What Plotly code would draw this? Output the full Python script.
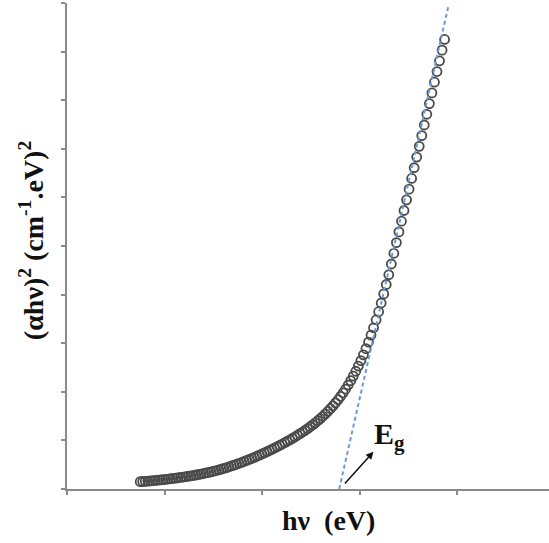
import plotly.graph_objects as go

# Photon energy (arbitrary axis units, no tick labels in reference)
hv = [0.750, 0.776, 0.802, 0.828, 0.854, 0.880, 0.906, 0.932, 0.958, 0.984,
      1.010, 1.036, 1.062, 1.088, 1.114, 1.140, 1.166, 1.192, 1.218, 1.244,
      1.270, 1.296, 1.322, 1.348, 1.374, 1.400, 1.426, 1.452, 1.478, 1.504,
      1.530, 1.556, 1.582, 1.608, 1.634, 1.660, 1.686, 1.712, 1.738, 1.764,
      1.790, 1.816, 1.842, 1.868, 1.894, 1.920, 1.946, 1.972, 1.998, 2.024,
      2.050, 2.076, 2.102, 2.128, 2.154, 2.180, 2.206, 2.232, 2.258, 2.284,
      2.310, 2.336, 2.362, 2.388, 2.414, 2.440, 2.466, 2.492, 2.518, 2.544,
      2.570, 2.596, 2.622, 2.648, 2.674, 2.700, 2.726, 2.752, 2.778, 2.804,
      2.830, 2.856, 2.882, 2.908, 2.934, 2.960, 2.986, 3.012, 3.038, 3.064,
      3.090, 3.116, 3.142, 3.168, 3.194, 3.220, 3.246, 3.272, 3.298, 3.324,
      3.350, 3.376, 3.402, 3.428, 3.454, 3.480, 3.506, 3.532, 3.558, 3.584,
      3.610, 3.636, 3.662, 3.688, 3.714, 3.740, 3.766, 3.792, 3.818, 3.844,
      3.870]

alpha_hv_sq = [0.150, 0.154, 0.158, 0.163, 0.167, 0.172, 0.177, 0.182, 0.187, 0.193,
               0.199, 0.205, 0.211, 0.217, 0.224, 0.231, 0.238, 0.246, 0.254, 0.262,
               0.270, 0.279, 0.288, 0.298, 0.308, 0.319, 0.330, 0.342, 0.354, 0.367,
               0.380, 0.394, 0.409, 0.424, 0.440, 0.457, 0.474, 0.492, 0.510, 0.529,
               0.548, 0.568, 0.588, 0.609, 0.630, 0.652, 0.674, 0.697, 0.720, 0.744,
               0.768, 0.793, 0.818, 0.844, 0.870, 0.897, 0.925, 0.953, 0.982, 1.012,
               1.042, 1.073, 1.105, 1.138, 1.172, 1.207, 1.243, 1.281, 1.320, 1.361,
               1.404, 1.449, 1.496, 1.546, 1.598, 1.653, 1.711, 1.772, 1.837, 1.906,
               1.979, 2.057, 2.140, 2.229, 2.323, 2.423, 2.529, 2.641, 2.760, 2.887,
               3.022, 3.165, 3.317, 3.478, 3.648, 3.827, 4.014, 4.208, 4.408, 4.630,
               4.850, 5.070, 5.290, 5.510, 5.730, 5.950, 6.170, 6.390, 6.610, 6.830,
               7.050, 7.270, 7.490, 7.710, 7.930, 8.150, 8.370, 8.590, 8.810, 9.030,
               9.250]

# Linear extrapolation (tangent) line
tangent_x = [2.790, 3.907]
tangent_y = [0.0, 9.92]

# Band gap arrow: tail and head
eg_tail = (2.834, 0.082)
eg_head = (3.141, 0.767)
eg_label_pos = (3.13, 1.10)

x_ticks = [0, 1, 2, 3, 4]
y_ticks = [0, 1, 2, 3, 4, 5, 6, 7, 8, 9, 10]

fig = go.Figure()
fig.add_trace(go.Scatter(
    x=hv, y=alpha_hv_sq, mode="markers",
    marker=dict(symbol="circle-open", size=9, color="#4a4a4a",
                line=dict(width=1.8, color="#4a4a4a")),
    showlegend=False))
fig.add_trace(go.Scatter(
    x=tangent_x, y=tangent_y, mode="lines",
    line=dict(color="#6a9ad8", width=2, dash="4px,3px"),
    showlegend=False))

axis_color = "#8a8a8a"
fig.update_xaxes(range=[0, 4.94], tickvals=x_ticks, showticklabels=False,
                 showline=True, linecolor=axis_color, linewidth=2,
                 ticks="outside", ticklen=4, tickcolor=axis_color, tickwidth=1.5,
                 showgrid=False, zeroline=False)
fig.update_yaxes(range=[0, 10], tickvals=y_ticks, showticklabels=False,
                 showline=True, linecolor=axis_color, linewidth=2,
                 ticks="outside", ticklen=4, tickcolor=axis_color, tickwidth=1.5,
                 showgrid=False, zeroline=False)

serif = "Liberation Serif"
fig.add_annotation(x=eg_head[0], y=eg_head[1], ax=eg_tail[0], ay=eg_tail[1],
                   xref="x", yref="y", axref="x", ayref="y", text="",
                   showarrow=True, arrowhead=2, arrowsize=1, arrowwidth=1.5,
                   arrowcolor="#111111")
fig.add_annotation(x=eg_label_pos[0], y=eg_label_pos[1], xref="x", yref="y",
                   text="<b>E<sub>g</sub></b>", showarrow=False,
                   xanchor="left", yanchor="middle",
                   font=dict(family=serif, size=30, color="#111111"))
fig.add_annotation(x=0.5415, y=0, xref="paper", yref="paper", yshift=-31,
                   text="<b>hν  (eV)</b>", showarrow=False,
                   xanchor="center", yanchor="middle",
                   font=dict(family=serif, size=28, color="#111111"))
fig.add_annotation(x=0, y=0.51, xref="paper", yref="paper", xshift=-36,
                   text="<b>(αhν)<sup>2</sup> (cm<sup>-1</sup>.eV)<sup>2</sup></b>",
                   showarrow=False, textangle=-90,
                   xanchor="center", yanchor="middle",
                   font=dict(family=serif, size=28, color="#111111"))

fig.update_layout(width=549, height=543,
                  margin=dict(l=67, r=0, t=3, b=54),
                  paper_bgcolor="white", plot_bgcolor="white")
fig.write_html("out.html", config={"displayModeBar": False},
               post_script="document.body.style.margin='0';document.body.style.padding='0';")
